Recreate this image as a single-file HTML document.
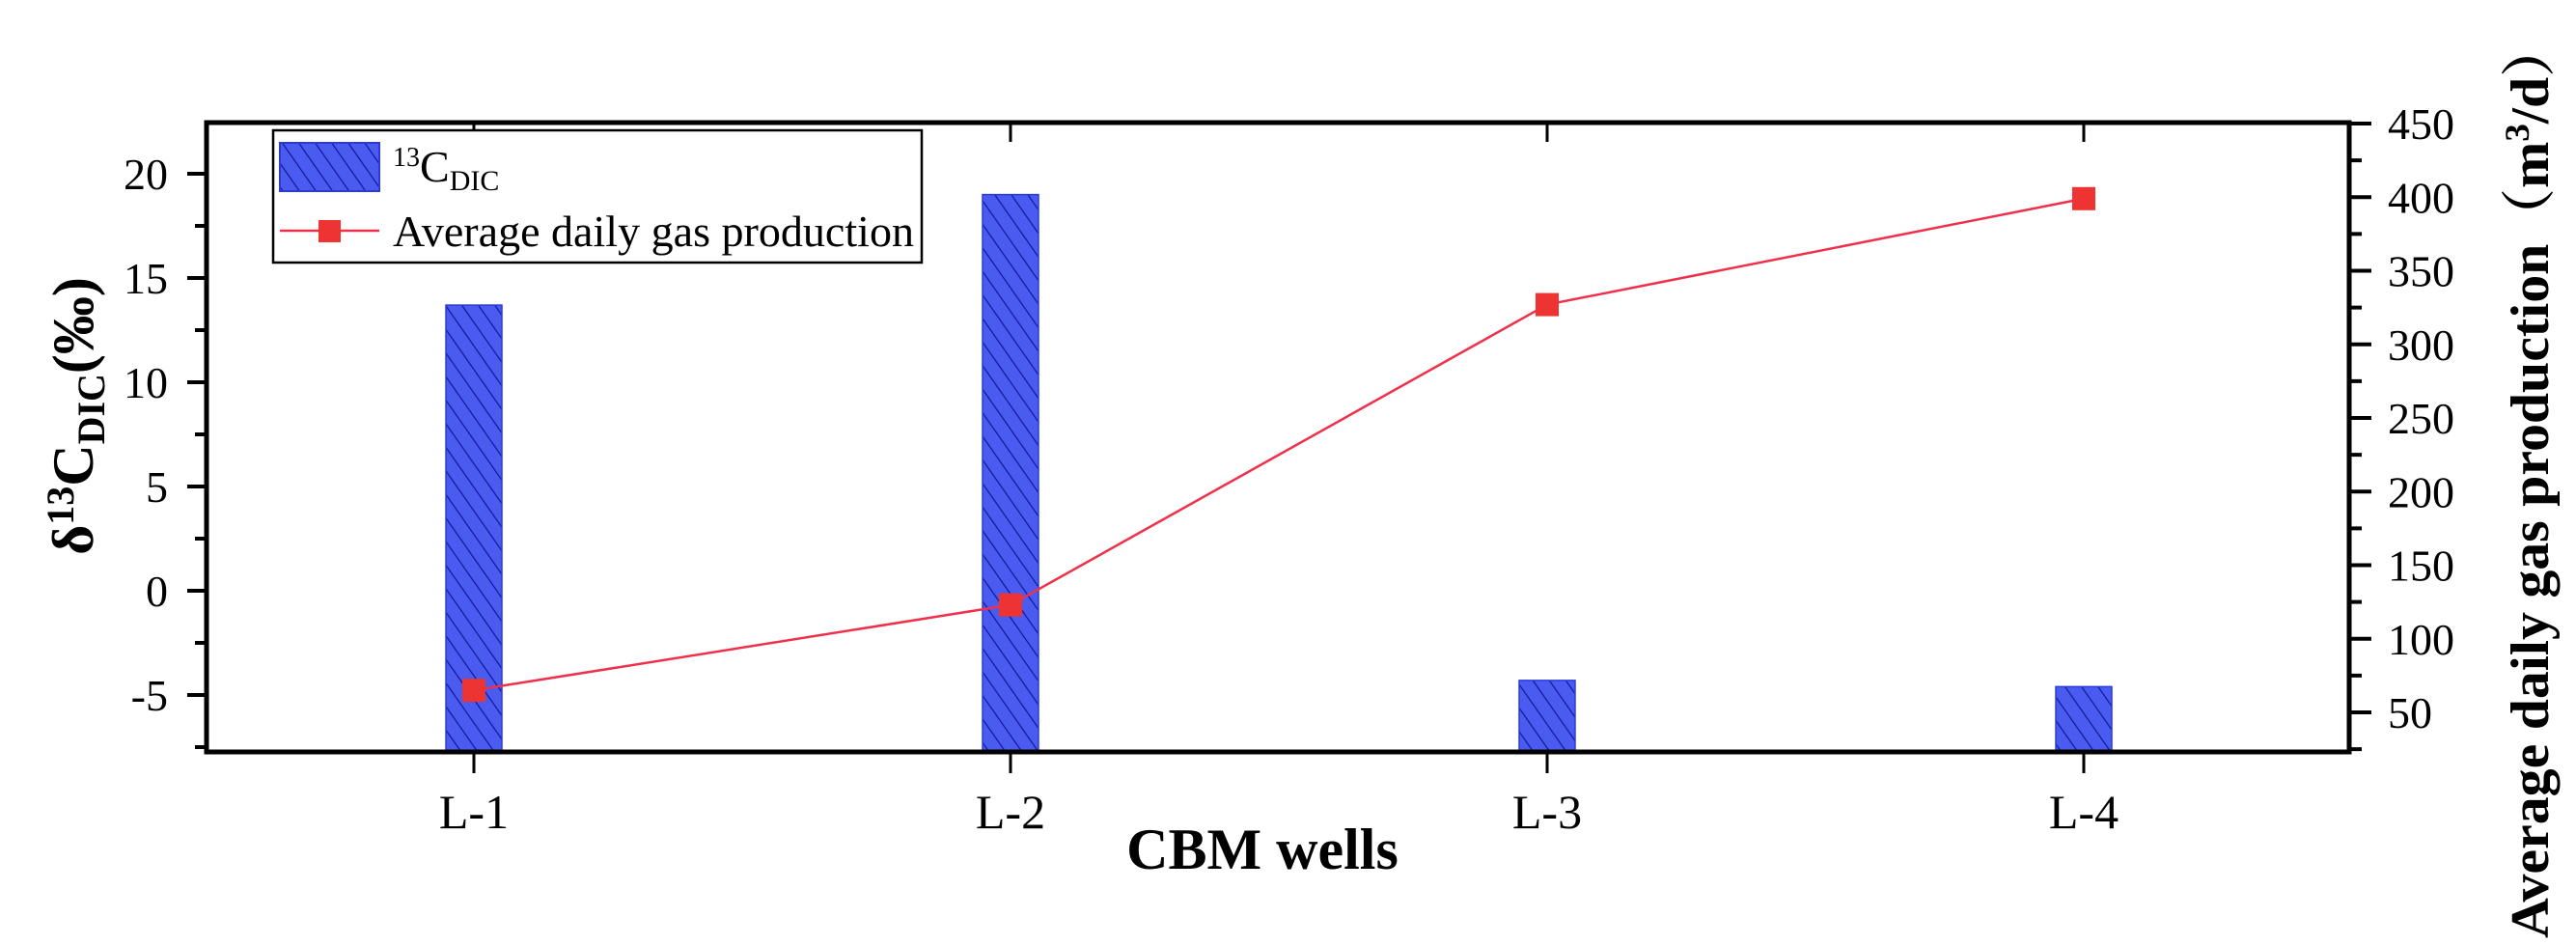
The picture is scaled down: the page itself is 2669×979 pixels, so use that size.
<!DOCTYPE html>
<html><head><meta charset="utf-8">
<style>
html,body{margin:0;padding:0;background:#fff;}
svg{display:block;font-family:"Liberation Serif","Noto Serif CJK SC",serif;}
</style></head>
<body>
<svg id="chart" width="2669" height="979" viewBox="0 0 2669 979" xmlns="http://www.w3.org/2000/svg">
<defs>
<pattern id="hatch" patternUnits="userSpaceOnUse" width="14" height="14" patternTransform="rotate(-35)">
<rect width="14" height="14" fill="#4a5cf0"/>
<line x1="0" y1="0" x2="0" y2="14" stroke="#10189a" stroke-width="2.5"/>
</pattern>
</defs>
<g id="plot"></g>
</svg>
<script>
const categories = ["L-1","L-2","L-3","L-4"];
const deltaValues = [13.7, 19.0, -4.3, -4.6];
const gasValues = [65, 123, 327, 399];
const leftTicks = [-5, 0, 5, 10, 15, 20];
const rightTicks = [50, 100, 150, 200, 250, 300, 350, 400, 450];

const NS = "http://www.w3.org/2000/svg";
const g = document.getElementById("plot");
const X0 = 214, X1 = 2434, YT = 127, YB = 779;
const yL = v => 612 - v * 21.6;
const yR = v => 738 - (v - 50) * 1.525;
const xC = i => 491 + i * 556;

function mk(tag, attrs, parent) {
  const e = document.createElementNS(NS, tag);
  for (const k in attrs) e.setAttribute(k, attrs[k]);
  (parent || g).appendChild(e);
  return e;
}

deltaValues.forEach((v, i) => {
  const r = mk("rect", {x: xC(i) - 29, y: yL(v), width: 58, height: YB - yL(v), fill: "url(#hatch)", stroke: "#2a3ae0", "stroke-width": 1.5});
  
  
});

const pts = gasValues.map((v, i) => xC(i) + "," + yR(v)).join(" ");
const pl = mk("polyline", {points: pts, fill: "none", stroke: "#f0304a", "stroke-width": 2.5});


gasValues.forEach((v, i) => {
  const m = mk("rect", {x: xC(i) - 12, y: yR(v) - 12, width: 24, height: 24, fill: "#ee3333"});
  
  
});

const fr = mk("path", {d: `M${X0},${YT} H${X1} V${YB} H${X0} Z`, fill: "none", stroke: "#000", "stroke-width": 5});



for (let v = -7.5; v <= 22.5; v += 2.5) {
  const y = yL(v);
  if (y < YT || y > YB) continue;
  const major = Math.abs(v % 5) < 1e-9;
  mk("line", {x1: X0, x2: X0 - (major ? 20 : 12), y1: y, y2: y, stroke: "#000", "stroke-width": 4});
}
leftTicks.forEach(v => {
  const t = mk("text", {x: 174, y: yL(v) + 16, "text-anchor": "end", "font-size": 46});
  t.textContent = v;
  
  
});

for (let v = 25; v <= 450; v += 25) {
  const y = yR(v);
  if (y < YT - 2 || y > YB) continue;
  const major = v % 50 === 0;
  mk("line", {x1: X1, x2: X1 + (major ? 23 : 13), y1: y, y2: y, stroke: "#000", "stroke-width": 4});
}
rightTicks.forEach(v => {
  const t = mk("text", {x: 2474, y: yR(v) + 16, "font-size": 46});
  t.textContent = v;
  
  
});

categories.forEach((c, i) => {
  mk("line", {x1: xC(i), x2: xC(i), y1: YB, y2: YB + 22, stroke: "#000", "stroke-width": 3});
  mk("line", {x1: xC(i), x2: xC(i), y1: YT, y2: YT + 20, stroke: "#000", "stroke-width": 3});
  const t = mk("text", {x: xC(i), y: 858, "text-anchor": "middle", "font-size": 50});
  t.textContent = c;
  
  
});
</script>
<svg width="2669" height="979" style="position:absolute;left:0;top:0;font-family:'Liberation Serif','Noto Serif CJK SC',serif" xmlns="http://www.w3.org/2000/svg">
<g>
<rect x="283" y="135" width="672" height="137" fill="#fff" stroke="#000" stroke-width="2.5"/>
<rect x="290" y="148" width="103" height="50" fill="url(#hatch)" stroke="#2a3ae0" stroke-width="2"/>
<text x="407" y="188" font-size="46"><tspan font-size="28" dy="-16">13</tspan><tspan dy="16">C</tspan><tspan font-size="30" dy="9">DIC</tspan></text>
<line x1="290" y1="239" x2="393" y2="239" stroke="#f0304a" stroke-width="2.5"/>
<rect x="330" y="228" width="23" height="23" fill="#ee3333"/>
<text x="407" y="255" font-size="46" textLength="540" lengthAdjust="spacingAndGlyphs">Average daily gas production</text>
</g>
<text transform="translate(96,431) rotate(-90)" text-anchor="middle" font-size="60" font-weight="bold">δ<tspan font-size="40" dy="-20">13</tspan><tspan dy="20">C</tspan><tspan font-size="40" dy="12">DIC</tspan><tspan dy="-12">(‰)</tspan></text>
<text x="1308" y="900" text-anchor="middle" font-size="60" font-weight="bold">CBM wells</text>
<text transform="translate(2640,497) rotate(-90)" text-anchor="middle" font-size="56" font-weight="bold" textLength="950" lengthAdjust="spacingAndGlyphs">Average daily gas production（m<tspan font-size="36" dy="-20">3</tspan><tspan dy="20">/d）</tspan></text>
</svg>
</body></html>
